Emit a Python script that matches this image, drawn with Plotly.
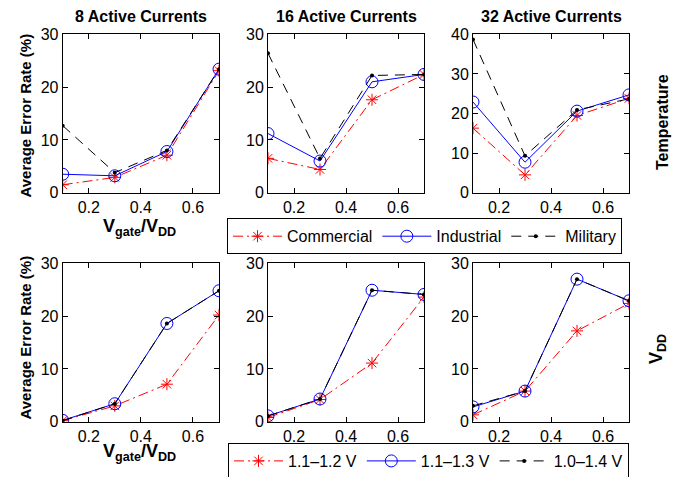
import plotly.graph_objects as go

# The page body has an 8px margin, so the figure is made 8px smaller and
# every pixel position below is shifted by that offset.
PAGE_W, PAGE_H = 690, 477
OFF = 8
W, H = PAGE_W - OFF, PAGE_H - OFF

x_vals = [0.1, 0.3, 0.5, 0.7]
titles = ["8 Active Currents", "16 Active Currents", "32 Active Currents"]

# Temperature row
temp_names = ["Commercial", "Industrial", "Military"]
temp_commercial = [[1.5, 2.9, 7.1, 23.1], [6.5, 4.4, 17.6, 22.4], [16.3, 4.5, 19.5, 23.8]]
temp_industrial = [[3.5, 3.2, 7.8, 23.4], [11.2, 6.0, 21.0, 22.4], [22.9, 7.7, 20.6, 24.7]]
temp_military = [[12.7, 3.8, 8.0, 23.4], [26.4, 6.5, 22.2, 22.4], [38.7, 9.3, 20.9, 23.7]]

# VDD row
vdd_names = ["1.1\u20131.2 V", "1.1\u20131.3 V", "1.0\u20131.4 V"]
vdd_a = [[0.2, 3.0, 7.1, 20.2], [0.8, 4.2, 11.1, 23.6], [1.3, 5.8, 17.2, 22.4]]
vdd_b = [[0.25, 3.4, 18.6, 24.8], [1.1, 4.3, 24.9, 24.1], [2.8, 5.8, 27.0, 22.9]]
vdd_c = [[0.2, 3.4, 18.6, 24.8], [1.1, 4.3, 24.9, 24.1], [3.0, 5.8, 27.0, 22.9]]

y_ranges_top = [[0, 30], [0, 30], [0, 40]]
y_ranges_bot = [[0, 30], [0, 30], [0, 30]]
x_ticks = [0.2, 0.4, 0.6]

FONT = "Liberation Sans, Arial, Helvetica, sans-serif"

# pixel layout (page coordinates)
col_px = [(62.7, 219.0), (268.0, 424.0), (473.0, 629.0)]
row_px = [(34.3, 192.7), (263.3, 421.7)]

def fx(px):
    return (px - OFF) / W

def fy(py):
    return 1 - (py - OFF) / H

def xd(a, b):
    return [fx(a), fx(b)]

def yd(top, bot):
    return [fy(bot), fy(top)]

styles = [
    dict(line=dict(color="red", width=1, dash="10px,4px,2px,4px"),
         marker=dict(symbol="asterisk-open", size=10, color="red", line=dict(color="red", width=1))),
    dict(line=dict(color="blue", width=1, dash="solid"),
         marker=dict(symbol="circle-open", size=12, color="blue", line=dict(color="blue", width=1))),
    dict(line=dict(color="black", width=1, dash="10px,7px"),
         marker=dict(symbol="circle", size=4, color="black")),
]

fig = go.Figure()
layout = {}

def add_panel(idx, r, c, series, names, yrange, legend_name, showlegend):
    ax = "" if idx == 1 else str(idx)
    for s, (ys, name) in enumerate(zip(series, names)):
        fig.add_trace(go.Scatter(
            x=x_vals, y=ys, name=name, mode="lines+markers",
            xaxis="x" + ax, yaxis="y" + ax,
            legend=legend_name, showlegend=showlegend,
            **styles[s]))
    common = dict(showline=True, linecolor="black", linewidth=1, mirror="ticks",
                  ticks="inside", ticklen=5, tickcolor="black", showgrid=False,
                  zeroline=False, automargin=False,
                  tickfont=dict(family=FONT, size=16, color="black"))
    layout["xaxis" + ax] = dict(domain=xd(*col_px[c]), range=[0.1, 0.7],
                                tickvals=x_ticks, ticktext=[str(t) for t in x_ticks],
                                anchor="y" + ax, **common)
    layout["yaxis" + ax] = dict(domain=yd(*row_px[r]), range=yrange,
                                dtick=10, anchor="x" + ax, **common)

idx = 1
for c in range(3):
    add_panel(idx, 0, c, [temp_commercial[c], temp_industrial[c], temp_military[c]],
              temp_names, y_ranges_top[c], "legend", c == 0)
    idx += 1
for c in range(3):
    add_panel(idx, 1, c, [vdd_a[c], vdd_b[c], vdd_c[c]],
              vdd_names, y_ranges_bot[c], "legend2", c == 0)
    idx += 1

def A(text, px, py, size, angle=0):
    return dict(text=text, x=fx(px), y=fy(py), xref="paper", yref="paper",
                xanchor="center", yanchor="middle", showarrow=False, textangle=angle,
                font=dict(family=FONT, size=size, color="black"))

ann = []
for c in range(3):
    cx = (col_px[c][0] + col_px[c][1]) / 2
    ann.append(A("<b>" + titles[c] + "</b>", cx, 16.5, 16))
# y labels
for cy in [115.5, 337.5]:
    ann.append(A("<b>Average Error Rate (%)</b>", 25, cy, 15, -90))
# x labels
for ly in [227, 452]:
    ann.append(A("<b>V<sub>gate</sub>/V<sub>DD</sub></b>", 139, ly, 18))
# row labels
ann.append(A("<b>Temperature</b>", 662, 122, 16, -90))
ann.append(A("<b>V<sub>DD</sub></b>", 657, 349, 18, -90))

legend_common = dict(orientation="h", xanchor="left", yanchor="top",
                     bordercolor="black", borderwidth=1, bgcolor="white",
                     font=dict(family=FONT, size=16, color="black"),
                     tracegroupgap=0, itemwidth=49)

fig.update_layout(
    width=W, height=H,
    margin=dict(l=0, r=0, t=0, b=0, autoexpand=False),
    paper_bgcolor="white", plot_bgcolor="white",
    showlegend=True,
    legend=dict(x=fx(227), y=fy(218.3), **legend_common),
    legend2=dict(x=fx(228), y=fy(443), **legend_common),
    annotations=ann,
    **layout,
)

fig.write_html("out.html")
